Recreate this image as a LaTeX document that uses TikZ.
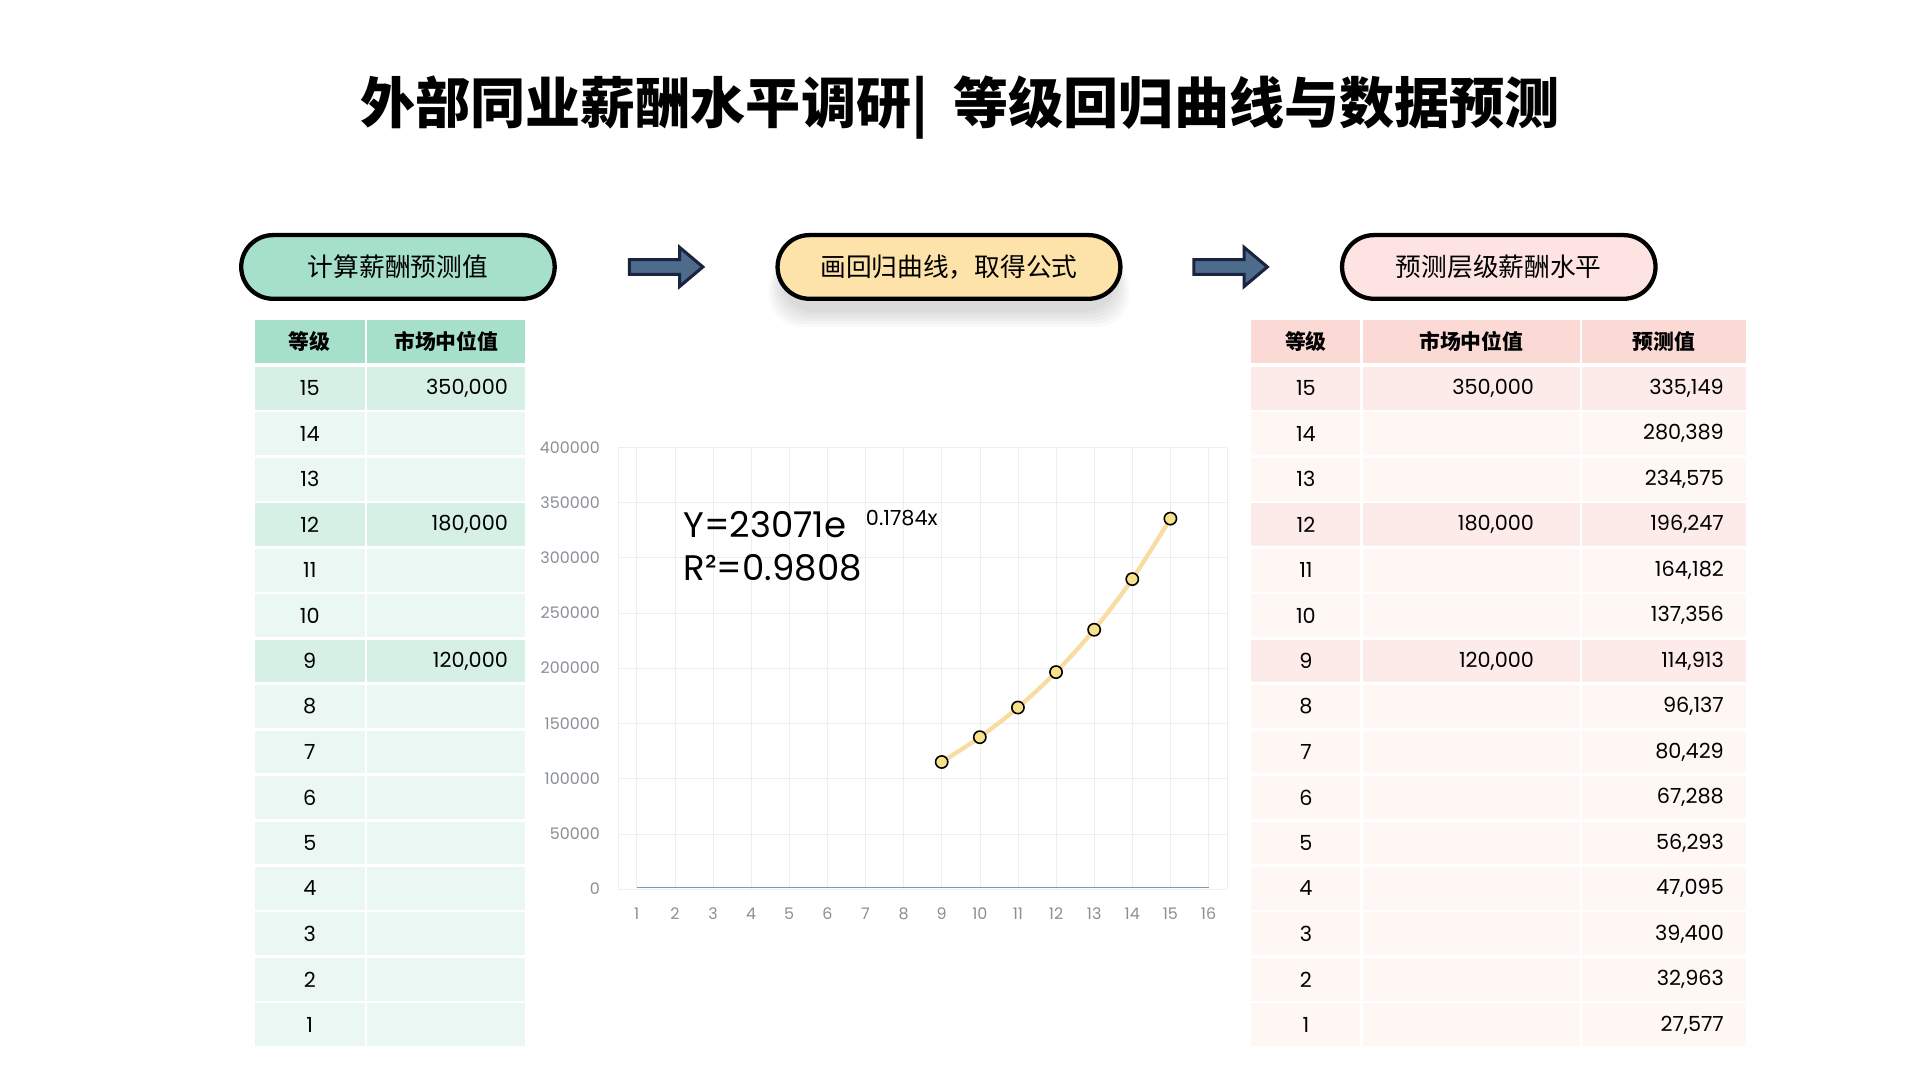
\documentclass[tikz,border=0pt]{standalone}
\usepackage{fontspec}
\setmainfont{Noto Sans CJK SC}
\newfontfamily\numfont{Poppins}
\usetikzlibrary{positioning}
\definecolor{mint}{HTML}{A6E0CB}
\definecolor{mintdark}{HTML}{D6F0E6}
\definecolor{mintlight}{HTML}{EAF7F2}
\definecolor{cream}{HTML}{FDE3A9}
\definecolor{rose}{HTML}{FDE4E3}
\definecolor{rosehead}{HTML}{FBDAD6}
\definecolor{rosedark}{HTML}{FDEBE9}
\definecolor{roselight}{HTML}{FEF7F4}
\definecolor{navy}{HTML}{1C2340}
\definecolor{slate}{HTML}{4D6C8C}
\definecolor{gridgray}{HTML}{ECEEF0}
\definecolor{axisgray}{HTML}{8A8F96}
\definecolor{curve}{HTML}{F8DCA2}
\definecolor{dot}{HTML}{F7E28C}
\tikzset{
pill/.style={draw=black, line width=3.5pt, rounded corners=26pt, minimum height=52pt, font=\fontsize{21}{21}\selectfont},
cell/.style={minimum height=35pt, inner sep=0pt},
num/.style={font=\numfont\fontsize{17}{17}\selectfont, inner sep=0pt},
head/.style={font=\bfseries\fontsize{17}{17}\selectfont, inner sep=0pt},
tick/.style={font=\numfont\fontsize{13}{13}\selectfont, text=axisgray, inner sep=0pt},
blockarrow/.style={draw=navy, line width=2.5pt, fill=slate, line join=miter},
}
\begin{document}
\begin{tikzpicture}[x=1pt, y=-1pt]
    \useasboundingbox[fill=white] (0,0) rectangle (1568,882);
    % title
    \node[font=\bfseries\fontsize{45}{45}\selectfont] (title) at (784,88) {外部同业薪酬水平调研|\ \ 等级回归曲线与数据预测};
    % step pills
    \foreach \s in {1,...,6}
        \fill[black, opacity=0.025, rounded corners=26pt] (640-\s*2,204+\s) rectangle (910+\s*2,252+\s*2.5);
    \node[pill, fill=mint, minimum width=256pt] (calc) at (325,218) {计算薪酬预测值};
    \node[pill, fill=cream, minimum width=280pt] (fit) at (775,218) {画回归曲线，取得公式};
    \node[pill, fill=rose, minimum width=256pt] (pred) at (1224,218) {预测层级薪酬水平};
    \draw[blockarrow] (514,212) -- (555,212) -- (555,202) -- (574,218) -- (555,234) -- (555,224) -- (514,224) -- cycle;
    \draw[blockarrow] (975,212) -- (1016,212) -- (1016,202) -- (1035,218) -- (1016,234) -- (1016,224) -- (975,224) -- cycle;
    % left table
    \node[cell, fill=mint, minimum width=90pt] (lh1) at (253,279) {};
    \node[cell, fill=mint, minimum width=129pt] (lh2) at (364.5,279) {};
    \node[head] at (lh1) {等级};
    \node[head] at (lh2) {市场中位值};
    % right table
    \node[cell, fill=rosehead, minimum width=89pt] (rh1) at (1066.5,279) {};
    \node[cell, fill=rosehead, minimum width=177pt] (rh2) at (1201.5,279) {};
    \node[cell, fill=rosehead, minimum width=134pt] (rh3) at (1359,279) {};
    \node[head] at (rh1) {等级};
    \node[head] at (rh2) {市场中位值};
    \node[head] at (rh3) {预测值};
    \foreach \g/\m/\p in {15/{350,000}/{335,149},14//{280,389},13//{234,575},12/{180,000}/{196,247},
        11//{164,182},10//{137,356},9/{120,000}/{114,913},8//{96,137},7//{80,429},6//{67,288},
        5//{56,293},4//{47,095},3//{39,400},2//{32,963},1//{27,577}}{
        \pgfmathsetmacro\y{317+(15-\g)*37.14}
        \pgfmathtruncatemacro\hi{(mod(15-\g,3)==0)&&(\g>8)}
        \ifnum\hi=1 \def\lc{mintdark}\def\rc{rosedark}\else\def\lc{mintlight}\def\rc{roselight}\fi
        \node[cell, fill=\lc, minimum width=90pt] (lg\g) at (253,\y) {};
        \node[cell, fill=\lc, minimum width=129pt] (lm\g) at (364.5,\y) {};
        \node[cell, fill=\rc, minimum width=89pt] (rg\g) at (1066.5,\y) {};
        \node[cell, fill=\rc, minimum width=177pt] (rm\g) at (1201.5,\y) {};
        \node[cell, fill=\rc, minimum width=134pt] (rp\g) at (1359,\y) {};
        \node[num] at (lg\g) {\g};
        \node[num, anchor=east] at (415,\y) {\m};
        \node[num] at (rg\g) {\g};
        \node[num, anchor=east] at (1253,\y) {\m};
        \node[num, anchor=east] at (1408,\y) {\p};
    }
    % chart
    \foreach \k in {1,...,16}
        \draw[gridgray] ({520+(\k-1)*31.13},366) -- ({520+(\k-1)*31.13},726);
    \draw[gridgray] (505,366) -- (505,726) (1002,366) -- (1002,726);
    \foreach \v [count=\j from 0] in {0,50000,100000,150000,200000,250000,300000,350000,400000}{
        \draw[gridgray] (505,{726-\j*45.1}) -- (1002,{726-\j*45.1});
        \node[tick, anchor=east] (yt\j) at (490,{726-\j*45.1}) {\v};
    }
    \foreach \k in {1,...,16}
        \node[tick] (xt\k) at ({520+(\k-1)*31.13},746) {\k};
    \draw[slate!70, line width=1.2pt] (520,725) -- (987,725);
    \foreach \k/\v in {9/114.913,10/137.356,11/164.182,12/196.247,13/234.575,14/280.389,15/335.149}
        \coordinate (p\k) at ({520+(\k-1)*31.13},{726-\v*0.9025});
    \draw[curve, line width=3.5pt, line cap=round] plot[smooth] coordinates {(p9) (p10) (p11) (p12) (p13) (p14) (p15)};
    \foreach \k in {9,...,15}
        \draw[fill=dot, line width=1.3pt] (p\k) circle (5pt);
    \node[font=\numfont\fontsize{29}{29}\selectfont, anchor=west, inner sep=0pt] (eq) at (558,428) {Y=23071e};
    \node[font=\numfont\fontsize{17}{17}\selectfont, anchor=west, inner sep=0pt] (ex) at (707,423) {0.1784x};
    \node[font=\numfont\fontsize{29}{29}\selectfont, anchor=west, inner sep=0pt] (r2) at (558,464) {R²=0.9808};
\end{tikzpicture}
\end{document}
